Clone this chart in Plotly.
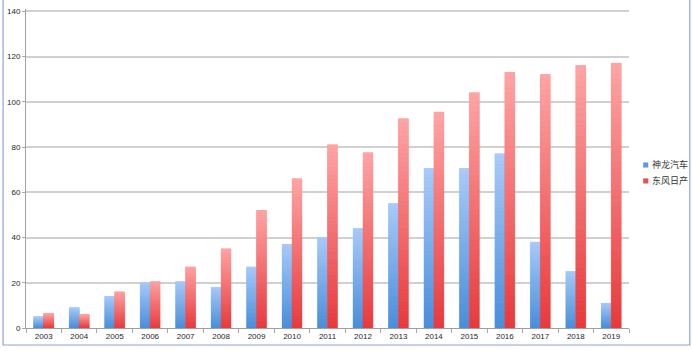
import plotly.graph_objects as go

years = ["2003", "2004", "2005", "2006", "2007", "2008", "2009", "2010", "2011",
         "2012", "2013", "2014", "2015", "2016", "2017", "2018", "2019"]
shenlong = [5, 9, 14, 20, 20.5, 18, 27, 37, 40, 44, 55, 70.5, 70.5, 77, 38, 25, 11]
dongfeng = [6.5, 6, 16, 20.5, 27, 35, 52, 66, 81, 77.5, 92.5, 95.5, 104, 113, 112, 116, 117]
series_names = ["神龙汽车", "东风日产"]
y_ticks = [0, 20, 40, 60, 80, 100, 120, 140]

N = 48  # gradient segments per bar


def rgb(c):
    return "rgb(%d,%d,%d)" % tuple(round(x) for x in c)


def lerp(c1, c2, t):
    return rgb([a + (b - a) * t for a, b in zip(c1, c2)])


styles = [
    ((72, 142, 218), (168, 203, 250), (91, 155, 220)),
    ((232, 58, 60), (255, 164, 164), (236, 80, 80)),
]

fig = go.Figure()
for name, vals, (dark, light, legc), grp in zip(series_names, [shenlong, dongfeng], styles, ["a", "b"]):
    # full bar underneath (mid colour) so no seams show
    fig.add_trace(go.Bar(
        x=years, y=vals, offsetgroup=grp, name=name,
        marker=dict(color=lerp(dark, light, 0.5), line=dict(width=0)),
        showlegend=False,
        hovertemplate=name + " %{x}: %{y}<extra></extra>",
    ))
    for k in range(N):
        t = k / (N - 1)
        col = lerp(dark, light, t)
        fig.add_trace(go.Bar(
            x=years,
            y=[v / N for v in vals],
            base=[v * k / N for v in vals],
            offsetgroup=grp,
            marker=dict(color=col, line=dict(width=0.4, color=col)),
            showlegend=False,
            hoverinfo="skip",
        ))

# legend drawn as small squares + text (right side)
leg_y = [0.511, 0.461]
leg_cols = [rgb(s[2]) for s in styles]
shapes = [dict(
    type="rect", xref="paper", yref="paper",
    x0=-0.038, x1=1.1008, y0=-0.0533, y1=1.2,
    line=dict(color="#8fa3d6", width=1.2), fillcolor="rgba(0,0,0,0)", layer="below",
)]
annotations = []
for name, yy, col in zip(series_names, leg_y, leg_cols):
    shapes.append(dict(
        type="rect", xref="paper", yref="paper",
        x0=1.0235, x1=1.032, y0=yy - 0.008, y1=yy + 0.008,
        line=dict(width=0), fillcolor=col,
    ))
    annotations.append(dict(
        xref="paper", yref="paper", x=1.034, y=yy, xanchor="left", yanchor="middle",
        text=name, showarrow=False,
        font=dict(family="Noto Sans CJK SC", size=9, color="#333333"),
    ))

fig.update_layout(
    width=692, height=351,
    margin=dict(l=24, r=63, t=7, b=23),
    paper_bgcolor="white", plot_bgcolor="white",
    barmode="group", bargap=0.44, bargroupgap=0,
    font=dict(family="Liberation Sans, Arial, sans-serif", size=8, color="#1e1e2a"),
    showlegend=False,
    shapes=shapes,
    annotations=annotations,
)
fig.update_xaxes(
    type="category", showgrid=False, showline=True, linecolor="#a0a0a0", linewidth=1,
    ticks="outside", tickson="boundaries", ticklen=4, tickcolor="#a8a8a8",
    tickfont=dict(size=8), fixedrange=True,
)
fig.update_yaxes(
    range=[0, 141], tickvals=y_ticks, showgrid=True, gridcolor="#d0d0d0", gridwidth=2,
    showline=True, linecolor="#a0a0a0", linewidth=1, ticks="outside", ticklen=3,
    tickcolor="#a8a8a8", tickfont=dict(size=8), zeroline=False, fixedrange=True,
)

fig.write_html("out.html")
